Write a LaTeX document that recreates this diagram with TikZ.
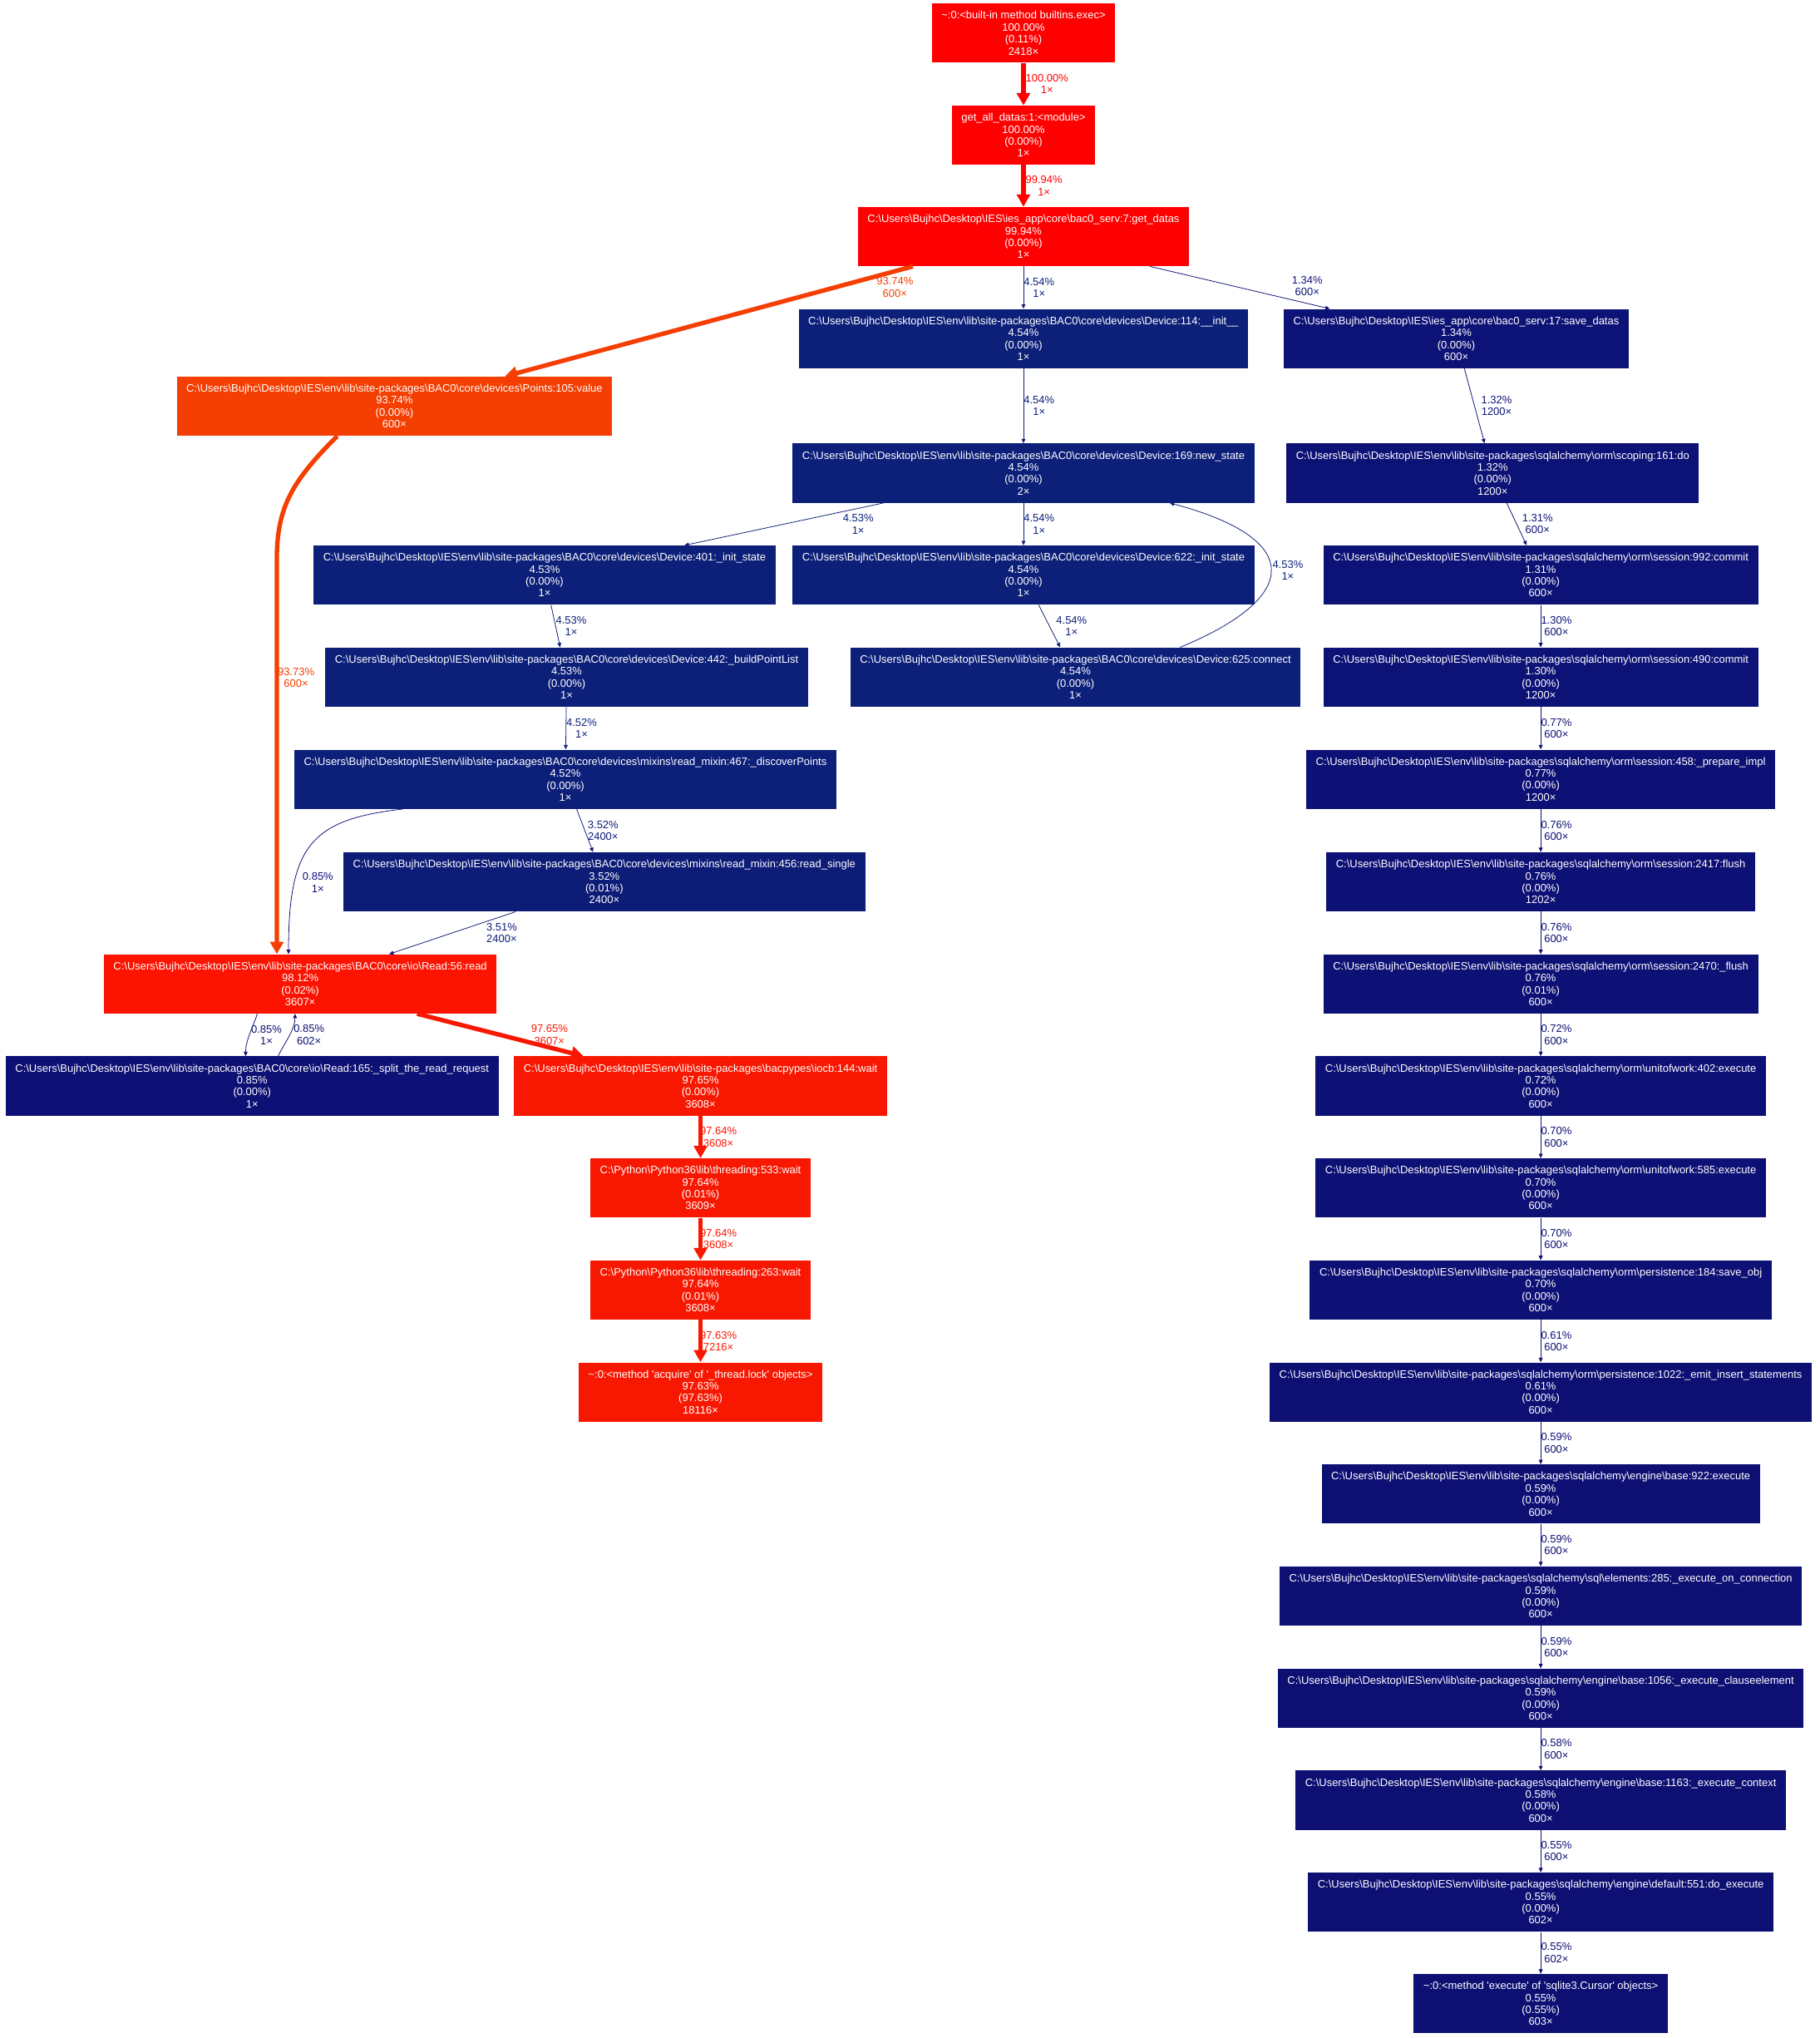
\documentclass[tikz,border=0pt]{standalone}
\usepackage{fontspec}
\setmainfont{Liberation Sans}
\usetikzlibrary{arrows.meta}
\definecolor{cA}{HTML}{FF0000}
\definecolor{cB}{HTML}{FC1300}
\definecolor{cC}{HTML}{F81801}
\definecolor{cD}{HTML}{F43E02}
\definecolor{cE}{HTML}{0D2079}
\definecolor{cF}{HTML}{0D1C77}
\definecolor{cG}{HTML}{0D1276}
\definecolor{cH}{HTML}{0D1074}
\definecolor{cI}{HTML}{0D0F73}
\newcommand{\bsl}{\textbackslash}
\newcommand{\envp}{C:\bsl Users\bsl Bujhc\bsl Desktop\bsl IES\bsl env\bsl lib\bsl site-packages\bsl}
\newcommand{\appp}{C:\bsl Users\bsl Bujhc\bsl Desktop\bsl IES\bsl ies\_app\bsl core\bsl bac0\_serv:}
\tikzset{fb/.style={text=white, align=center, inner xsep=7.4pt, inner ysep=0pt, minimum height=45.5pt}}
\tikzset{el/.style={align=center, inner sep=0pt, anchor=west}}
\tikzset{hot/.style={line width=3.4pt, >={Triangle[length=9.4pt,width=10pt]}}}
\tikzset{cold/.style={line width=0.5pt, >={Triangle[length=3.4pt,width=3pt]}}}
\begin{document}
\begin{tikzpicture}[x=1pt,y=-1pt]
  \useasboundingbox (0,0) rectangle (1400,1568);
  \begin{scope}[font=\fontsize{8.3}{9.2}\selectfont]
    \node[fb, fill=cA] (exec) at (787.5,25.5) {\textasciitilde:0:<built-in method builtins.exec>\\100.00\%\\(0.11\%)\\2418×};
    \node[fb, fill=cA] (getall) at (787.5,104) {get\_all\_datas:1:<module>\\100.00\%\\(0.00\%)\\1×}
      edge [hot, cA, <-] node [el] {100.00\%\\1×} (exec);
    \node[fb, fill=cA] (getdatas) at (787.5,182) {\appp 7:get\_datas\\99.94\%\\(0.00\%)\\1×}
      edge [hot, cA, <-] node [el] {99.94\%\\1×} (getall);
    \node[fb, fill=cD] (points) at (303.5,312.5) {\envp BAC0\bsl core\bsl devices\bsl Points:105:value\\93.74\%\\(0.00\%)\\600×}
      edge [hot, cD, <-] node [el, pos=.81, xshift=30pt] {93.74\%\\600×} (getdatas);
    \node[fb, fill=cE] (dev114) at (787.5,260.5) {\envp BAC0\bsl core\bsl devices\bsl Device:114:\_\_init\_\_\\4.54\%\\(0.00\%)\\1×}
      edge [cold, cE, <-] node [el] {4.54\%\\1×} (getdatas);
    \node[fb, fill=cG] (savedatas) at (1120.5,260.5) {\appp 17:save\_datas\\1.34\%\\(0.00\%)\\600×}
      edge [cold, cG, <-] node [el, pos=.53, xshift=44pt] {1.34\%\\600×} (getdatas);
    \node[fb, fill=cE] (newstate) at (787.5,364) {\envp BAC0\bsl core\bsl devices\bsl Device:169:new\_state\\4.54\%\\(0.00\%)\\2×}
      edge [cold, cE, <-] node [el] {4.54\%\\1×} (dev114);
    \node[fb, fill=cG] (scoping) at (1148.5,364) {\envp sqlalchemy\bsl orm\bsl scoping:161:do\\1.32\%\\(0.00\%)\\1200×}
      edge [cold, cG, <-] node [el, xshift=5pt] {1.32\%\\1200×} (savedatas);
    \node[fb, fill=cE] (dev401) at (419,442.5) {\envp BAC0\bsl core\bsl devices\bsl Device:401:\_init\_state\\4.53\%\\(0.00\%)\\1×}
      edge [cold, cE, <-] node [el, xshift=45pt] {4.53\%\\1×} (newstate);
    \node[fb, fill=cE] (dev622) at (787.5,442.5) {\envp BAC0\bsl core\bsl devices\bsl Device:622:\_init\_state\\4.54\%\\(0.00\%)\\1×}
      edge [cold, cE, <-] node [el] {4.54\%\\1×} (newstate);
    \node[fb, fill=cG] (commit992) at (1185.5,442.5) {\envp sqlalchemy\bsl orm\bsl session:992:commit\\1.31\%\\(0.00\%)\\600×}
      edge [cold, cG, <-] node [el, xshift=4pt] {1.31\%\\600×} (scoping);
    \node[fb, fill=cE] (dev442) at (436,521) {\envp BAC0\bsl core\bsl devices\bsl Device:442:\_buildPointList\\4.53\%\\(0.00\%)\\1×}
      edge [cold, cE, <-] node [el] {4.53\%\\1×} (dev401);
    \node[fb, fill=cE] (connect) at (827.5,521) {\envp BAC0\bsl core\bsl devices\bsl Device:625:connect\\4.54\%\\(0.00\%)\\1×}
      edge [cold, cE, <-] node [el, xshift=5pt] {4.54\%\\1×} (dev622);
    \node[fb, fill=cG] (commit490) at (1185.5,521) {\envp sqlalchemy\bsl orm\bsl session:490:commit\\1.30\%\\(0.00\%)\\1200×}
      edge [cold, cG, <-] node [el] {1.30\%\\600×} (commit992);
    \node[fb, fill=cE] (discover) at (435,599.5) {\envp BAC0\bsl core\bsl devices\bsl mixins\bsl read\_mixin:467:\_discoverPoints\\4.52\%\\(0.00\%)\\1×}
      edge [cold, cE, <-] node [el] {4.52\%\\1×} (dev442);
    \node[fb, fill=cH] (prepare) at (1185.5,599.5) {\envp sqlalchemy\bsl orm\bsl session:458:\_prepare\_impl\\0.77\%\\(0.00\%)\\1200×}
      edge [cold, cH, <-] node [el] {0.77\%\\600×} (commit490);
    \node[fb, fill=cF] (readsingle) at (465,678.5) {\envp BAC0\bsl core\bsl devices\bsl mixins\bsl read\_mixin:456:read\_single\\3.52\%\\(0.01\%)\\2400×}
      edge [cold, cF, <-] node [el, xshift=2pt] {3.52\%\\2400×} (discover);
    \node[fb, fill=cH] (flush2417) at (1185.5,678.5) {\envp sqlalchemy\bsl orm\bsl session:2417:flush\\0.76\%\\(0.00\%)\\1202×}
      edge [cold, cH, <-] node [el] {0.76\%\\600×} (prepare);
    \node[fb, fill=cB] (read56) at (231,757) {\envp BAC0\bsl core\bsl io\bsl Read:56:read\\98.12\%\\(0.02\%)\\3607×}
      edge [cold, cF, <-] node [el, xshift=26pt] {3.51\%\\2400×} (readsingle);
    \node[fb, fill=cH] (flush2470) at (1185.5,757) {\envp sqlalchemy\bsl orm\bsl session:2470:\_flush\\0.76\%\\(0.01\%)\\600×}
      edge [cold, cH, <-] node [el] {0.76\%\\600×} (flush2417);
    \node[fb, fill=cH] (split) at (194,835.5) {\envp BAC0\bsl core\bsl io\bsl Read:165:\_split\_the\_read\_request\\0.85\%\\(0.00\%)\\1×};
    \node[fb, fill=cC] (iocb) at (539,835.5) {\envp bacpypes\bsl iocb:144:wait\\97.65\%\\(0.00\%)\\3608×}
      edge [hot, cC, <-] node [el, xshift=22pt] {97.65\%\\3607×} (read56);
    \node[fb, fill=cH] (uow402) at (1185.5,835.5) {\envp sqlalchemy\bsl orm\bsl unitofwork:402:execute\\0.72\%\\(0.00\%)\\600×}
      edge [cold, cH, <-] node [el] {0.72\%\\600×} (flush2470);
    \node[fb, fill=cC] (thr533) at (539,914) {C:\bsl Python\bsl Python36\bsl lib\bsl threading:533:wait\\97.64\%\\(0.01\%)\\3609×}
      edge [hot, cC, <-] node [el, xshift=-2pt] {97.64\%\\3608×} (iocb);
    \node[fb, fill=cH] (uow585) at (1185.5,914) {\envp sqlalchemy\bsl orm\bsl unitofwork:585:execute\\0.70\%\\(0.00\%)\\600×}
      edge [cold, cH, <-] node [el] {0.70\%\\600×} (uow402);
    \node[fb, fill=cC] (thr263) at (539,992.5) {C:\bsl Python\bsl Python36\bsl lib\bsl threading:263:wait\\97.64\%\\(0.01\%)\\3608×}
      edge [hot, cC, <-] node [el, xshift=-2pt] {97.64\%\\3608×} (thr533);
    \node[fb, fill=cH] (persist184) at (1185.5,992.5) {\envp sqlalchemy\bsl orm\bsl persistence:184:save\_obj\\0.70\%\\(0.00\%)\\600×}
      edge [cold, cH, <-] node [el] {0.70\%\\600×} (uow585);
    \node[fb, fill=cC] (lock) at (539,1071) {\textasciitilde:0:<method \textquotesingle acquire\textquotesingle\ of \textquotesingle\_thread.lock\textquotesingle\ objects>\\97.63\%\\(97.63\%)\\18116×}
      edge [hot, cC, <-] node [el, xshift=-2pt] {97.63\%\\7216×} (thr263);
    \node[fb, fill=cI] (persist1022) at (1185.5,1071) {\envp sqlalchemy\bsl orm\bsl persistence:1022:\_emit\_insert\_statements\\0.61\%\\(0.00\%)\\600×}
      edge [cold, cI, <-] node [el] {0.61\%\\600×} (persist184);
    \node[fb, fill=cI] (base922) at (1185.5,1149.5) {\envp sqlalchemy\bsl engine\bsl base:922:execute\\0.59\%\\(0.00\%)\\600×}
      edge [cold, cI, <-] node [el] {0.59\%\\600×} (persist1022);
    \node[fb, fill=cI] (elements285) at (1185.5,1228) {\envp sqlalchemy\bsl sql\bsl elements:285:\_execute\_on\_connection\\0.59\%\\(0.00\%)\\600×}
      edge [cold, cI, <-] node [el] {0.59\%\\600×} (base922);
    \node[fb, fill=cI] (base1056) at (1185.5,1306.5) {\envp sqlalchemy\bsl engine\bsl base:1056:\_execute\_clauseelement\\0.59\%\\(0.00\%)\\600×}
      edge [cold, cI, <-] node [el] {0.59\%\\600×} (elements285);
    \node[fb, fill=cI] (base1163) at (1185.5,1385) {\envp sqlalchemy\bsl engine\bsl base:1163:\_execute\_context\\0.58\%\\(0.00\%)\\600×}
      edge [cold, cI, <-] node [el] {0.58\%\\600×} (base1056);
    \node[fb, fill=cI] (default551) at (1185.5,1463.5) {\envp sqlalchemy\bsl engine\bsl default:551:do\_execute\\0.55\%\\(0.00\%)\\602×}
      edge [cold, cI, <-] node [el] {0.55\%\\600×} (base1163);
    \node[fb, fill=cI] (sqlite) at (1185.5,1541.5) {\textasciitilde:0:<method \textquotesingle execute\textquotesingle\ of \textquotesingle sqlite3.Cursor\textquotesingle\ objects>\\0.55\%\\(0.55\%)\\603×}
      edge [cold, cI, <-] node [el] {0.55\%\\602×} (default551);
    \draw[hot, cD, ->] ([xshift=-44pt]points.south) .. controls +(-35,35) and +(0,-40) .. ++(-46.5,95) -- ([xshift=-18pt]read56.north)
      node [el, pos=.3, xshift=-1pt] {93.73\%\\600×};
    \draw[cold, cH, ->] ([xshift=-125pt]discover.south) .. controls +(-70,8) and +(0,-84) .. ([xshift=-9pt]read56.north)
      node [el, pos=.73, xshift=6pt] {0.85\%\\1×};
    \draw[cold, cE, ->] ([xshift=80.5pt]connect.north) .. controls +(92,-38) and +(105,28) .. ([xshift=112.5pt]newstate.south)
      node [el, pos=.5, xshift=1pt] {4.53\%\\1×};
    \draw[cold, cH, ->] ([xshift=-33pt]read56.south) .. controls +(-4,12) and +(0,-12) .. ([xshift=-5pt]split.north)
      node [el, pos=.5, xshift=1pt] {0.85\%\\1×};
    \draw[cold, cH, ->] ([xshift=20pt]split.north) .. controls +(6,-12) and +(0,12) .. ([xshift=-4pt]read56.south)
      node [el, pos=.5, xshift=3pt] {0.85\%\\602×};
  \end{scope}
\end{tikzpicture}
\end{document}
